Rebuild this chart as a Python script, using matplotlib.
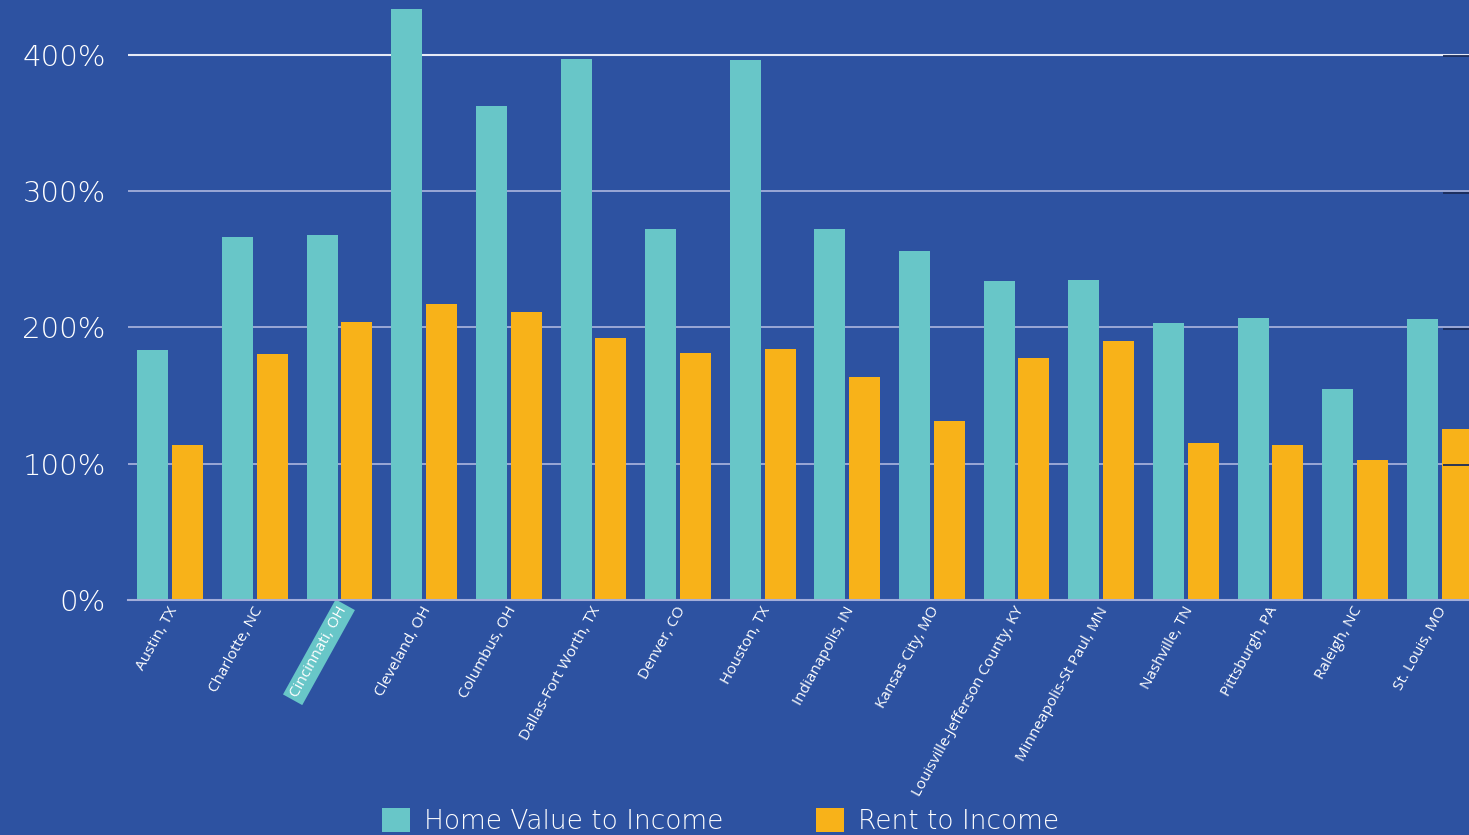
import matplotlib
matplotlib.use("Agg")
import matplotlib.pyplot as plt
import numpy as np

cities = ["Austin, TX", "Charlotte, NC", "Cincinnati, OH", "Cleveland, OH", "Columbus, OH",
          "Dallas-Fort Worth, TX", "Denver, CO", "Houston, TX", "Indianapolis, IN",
          "Kansas City, MO", "Louisville-Jefferson County, KY", "Minneapolis-St Paul, MN",
          "Nashville, TN", "Pittsburgh, PA", "Raleigh, NC", "St. Louis, MO"]
home_value_to_income = [183.4, 266.3, 267.8, 433.6, 362.4, 396.9, 272.2, 396.2, 272.2,
                        256.1, 234.0, 234.8, 203.2, 206.9, 154.8, 206.2]
rent_to_income = [113.7, 180.5, 204.0, 217.2, 211.3, 192.2, 181.2, 184.2, 163.6,
                  131.3, 177.6, 190.0, 115.2, 113.7, 102.7, 125.5]
y_ticks = [0, 100, 200, 300, 400]
y_tick_labels = ["0%", "100%", "200%", "300%", "400%"]
highlight_city = "Cincinnati, OH"

BG = "#2D52A1"
TEAL = "#68C6C8"
ORANGE = "#F8B219"
GRID = "#A3AEDA"

W, H = 1469, 835
fig = plt.figure(figsize=(W / 100, H / 100), dpi=100, facecolor=BG)
ax = fig.add_axes([128 / W, 235 / H, (1482 - 128) / W, 1 - 235 / H])
ax.set_facecolor(BG)

x = np.arange(len(cities))
bw = 0.366
gap = 0.045
ax.bar(x - (bw + gap) / 2, home_value_to_income, width=bw, color=TEAL, zorder=3,
       label="Home Value to Income")
ax.bar(x + (bw + gap) / 2, rent_to_income, width=bw, color=ORANGE, zorder=3,
       label="Rent to Income")

ax.set_xlim(-0.5, len(cities) - 0.5)
ax.set_ylim(0, 440)
ax.set_yticks(y_ticks)
ax.set_yticklabels(y_tick_labels, fontsize=21, color="white", family="DejaVu Sans",
                   fontweight="light")
ax.tick_params(axis="y", length=0, pad=16)
ax.grid(axis="y", color=GRID, linewidth=1.3, zorder=0)
ax.set_axisbelow(True)
gl = ax.get_ygridlines()
gl[-1].set_color("#E6EAF6")
gl[-1].set_linewidth(1.5)

for s in ["top", "right", "left"]:
    ax.spines[s].set_visible(False)
ax.spines["bottom"].set_color(GRID)
ax.spines["bottom"].set_linewidth(1.5)
ax.spines["bottom"].set_zorder(4)

ax.set_xticks(x - 0.03)
ax.set_xticklabels(cities, rotation=61, ha="right", rotation_mode="anchor",
                   fontsize=11, color="white", family="Open Sans")
ax.tick_params(axis="x", length=0, pad=3)
for lbl in ax.get_xticklabels():
    if lbl.get_text() == highlight_city:
        lbl.set_bbox(dict(facecolor=TEAL, edgecolor="none", pad=2.5))

# right-side short tick marks, sitting just below the grid lines
ax2 = ax.twinx()
ax2.set_ylim(1.2, 441.2)
ax2.set_yticks(y_ticks[1:])
ax2.tick_params(axis="y", direction="in", length=28, width=1.3, color="#1B2C5A",
                labelright=False)
for s in ax2.spines.values():
    s.set_visible(False)

leg = fig.legend(loc="upper left", bbox_to_anchor=(382 / W, 1 - 808 / H), ncol=2,
                 frameon=False, handlelength=1.05, handleheight=1.05,
                 handletextpad=0.55, columnspacing=3.5, borderpad=0, borderaxespad=0,
                 labelcolor="white",
                 prop={"family": "DejaVu Sans", "size": 19, "weight": "light"})

fig.savefig("out.png", dpi=100, facecolor=BG)
